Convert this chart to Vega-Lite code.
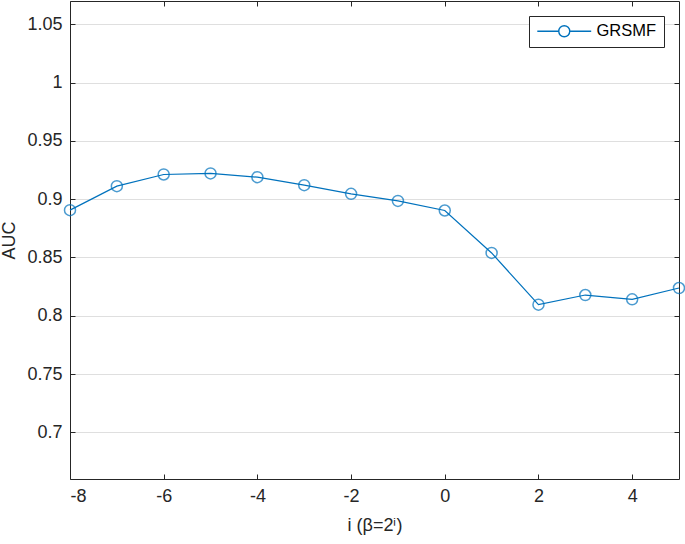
{
  "$schema": "https://vega.github.io/schema/vega-lite/v6.json",
  "width": 609,
  "height": 478,
  "autosize": {"type": "none"},
  "padding": {"left": 70, "top": 1, "right": 6, "bottom": 65},
  "background": "white",
  "data": {
    "values": [
      {"i": -8, "auc": 0.8906, "series": "GRSMF"},
      {"i": -7, "auc": 0.9112, "series": "GRSMF"},
      {"i": -6, "auc": 0.9212, "series": "GRSMF"},
      {"i": -5, "auc": 0.9221, "series": "GRSMF"},
      {"i": -4, "auc": 0.9189, "series": "GRSMF"},
      {"i": -3, "auc": 0.912, "series": "GRSMF"},
      {"i": -2, "auc": 0.9046, "series": "GRSMF"},
      {"i": -1, "auc": 0.8985, "series": "GRSMF"},
      {"i": 0, "auc": 0.8903, "series": "GRSMF"},
      {"i": 1, "auc": 0.8539, "series": "GRSMF"},
      {"i": 2, "auc": 0.8095, "series": "GRSMF"},
      {"i": 3, "auc": 0.8178, "series": "GRSMF"},
      {"i": 4, "auc": 0.8141, "series": "GRSMF"},
      {"i": 5, "auc": 0.8238, "series": "GRSMF"}
    ]
  },
  "layer": [
    {
      "mark": {"type": "line", "color": "#0072BD", "strokeWidth": 1.2},
      "encoding": {
        "x": {
          "field": "i", "type": "quantitative",
          "scale": {"domain": [-8, 5], "nice": false, "zero": false},
          "axis": {
            "orient": "bottom", "values": [-8, -6, -4, -2, 0, 2, 4],
            "labelExpr": "'' + datum.value", "grid": false,
            "title": "i (β=2ⁱ)", "titlePadding": 11
          }
        },
        "y": {
          "field": "auc", "type": "quantitative",
          "scale": {"domain": [0.66, 1.07], "nice": false, "zero": false},
          "axis": {
            "orient": "left", "values": [0.7, 0.75, 0.8, 0.85, 0.9, 0.95, 1, 1.05],
            "labelExpr": "'' + datum.value", "grid": true,
            "title": "AUC", "titlePadding": 8
          }
        },
        "color": {
          "field": "series", "type": "nominal",
          "scale": {"range": ["#0072BD"]},
          "legend": {
            "orient": "none", "legendX": 459, "legendY": 15, "title": null,
            "symbolType": "M-4.9,0H-1M1,0H4.9M-1,0A1,1 0 1,0 1,0A1,1 0 1,0 -1,0",
            "symbolSize": 121, "symbolStrokeWidth": 1.4, "symbolOffset": 20,
            "labelOffset": 24, "labelFontSize": 16.5, "labelFont": "Liberation Sans",
            "labelColor": "#000000", "padding": 7,
            "strokeColor": "#262626", "fillColor": "white",
            "encode": {"symbols": {"update": {"fill": {"value": "transparent"}, "stroke": {"value": "#0072BD"}}}}
          }
        }
      }
    },
    {
      "mark": {"type": "point", "shape": "circle", "filled": false, "size": 121, "strokeWidth": 1.5, "color": "#0072BD"},
      "encoding": {
        "x": {
          "field": "i", "type": "quantitative",
          "scale": {"domain": [-8, 5], "nice": false, "zero": false},
          "axis": {"orient": "top", "values": [-8, -6, -4, -2, 0, 2, 4], "labels": false, "grid": false, "title": null}
        },
        "y": {
          "field": "auc", "type": "quantitative",
          "scale": {"domain": [0.66, 1.07], "nice": false, "zero": false},
          "axis": {"orient": "right", "values": [0.7, 0.75, 0.8, 0.85, 0.9, 0.95, 1, 1.05], "labels": false, "grid": false, "title": null}
        },
        "color": {"field": "series", "type": "nominal", "scale": {"range": ["#0072BD"]}}
      }
    }
  ],
  "resolve": {"axis": {"x": "independent", "y": "independent"}},
  "config": {
    "view": {"stroke": null},
    "axis": {
      "domainColor": "#262626", "domainWidth": 1,
      "tickColor": "#262626", "tickSize": -5, "tickWidth": 1,
      "labelColor": "#262626", "labelFont": "Liberation Sans", "labelFontSize": 18,
      "labelPadding": 13,
      "titleColor": "#262626", "titleFont": "Liberation Sans", "titleFontSize": 18, "titleFontWeight": "normal",
      "gridColor": "#dfdfdf", "gridWidth": 1
    }
  }
}
